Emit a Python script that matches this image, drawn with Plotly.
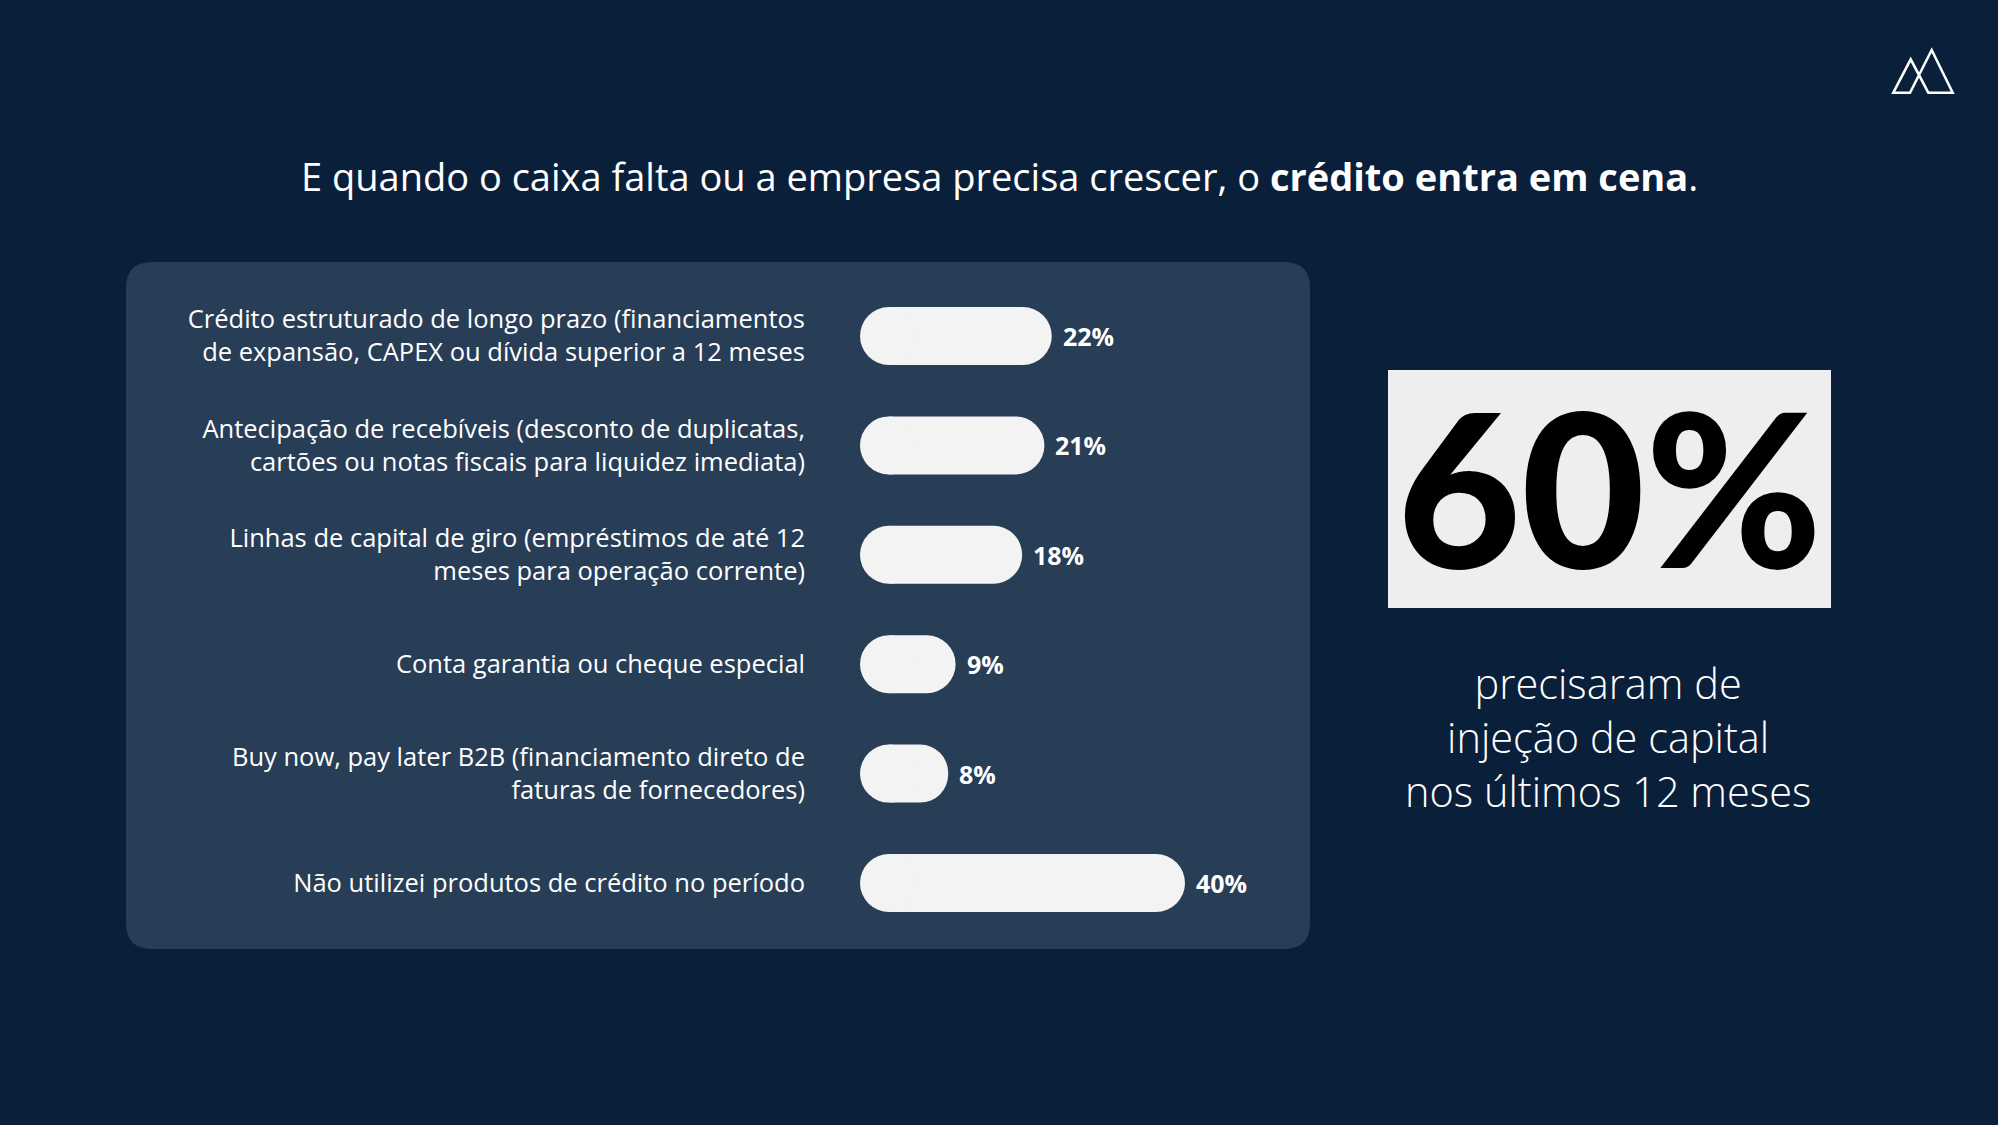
import plotly.graph_objects as go

# ---------------- data ----------------
categories = [
    "Crédito estruturado de longo prazo (financiamentos<br>de expansão, CAPEX ou dívida superior a 12 meses",
    "Antecipação de recebíveis (desconto de duplicatas,<br>cartões ou notas fiscais para liquidez imediata)",
    "Linhas de capital de giro (empréstimos de até 12<br>meses para operação corrente)",
    "Conta garantia ou cheque especial",
    "Buy now, pay later B2B (financiamento direto de<br>faturas de fornecedores)",
    "Não utilizei produtos de crédito no período",
]
values = [22, 21, 18, 9, 8, 40]
value_labels = [f"{v}%" for v in values]

title_plain = "E quando o caixa falta ou a empresa precisa crescer, o "
title_bold = "crédito entra em cena"
headline_value = "60%"
headline_caption = ["precisaram de", "injeção de capital", "nos últimos 12 meses"]

# ---------------- style ----------------
W, H = 1998, 1125
BG = "#0a1f3a"
PANEL = "#283d56"
BAR = "#f3f3f3"
BOX = "#eeeeee"
FONT = "Open Sans"
BIG_FONT = "Lato"


def px(x):
    return x / W


def py(y):
    return 1 - y / H


# plot-area geometry (pixels)
PLOT_L, PLOT_R = 860, 1310
ZERO_PX = 889          # where value 0 sits (pill cap centre)
PX_PER_UNIT = 7.4
BAND_TOP, BAND_BOT = 281.3, 937.7
BAR_H = 58

x_range = [(PLOT_L - ZERO_PX) / PX_PER_UNIT, (PLOT_R - ZERO_PX) / PX_PER_UNIT]
band = (BAND_BOT - BAND_TOP) / len(categories)

fig = go.Figure()

fig.add_trace(go.Bar(
    x=values, y=categories, orientation="h",
    marker=dict(color=BAR, line=dict(width=0), cornerradius="50%"),
    width=BAR_H / band, hoverinfo="skip", showlegend=False,
))
# rounded cap at the base end of every pill
fig.add_trace(go.Scatter(
    x=[0] * len(categories), y=categories, mode="markers",
    marker=dict(size=BAR_H, color=BAR, line=dict(width=0)),
    hoverinfo="skip", showlegend=False,
))

annotations = []
for c, v, t in zip(categories, values, value_labels):
    annotations.append(dict(
        x=v, y=c, xref="x", yref="y", text=f"<b>{t}</b>", showarrow=False,
        xanchor="left", yanchor="middle", xshift=9,
        font=dict(family=FONT, size=25, color="white"),
    ))

annotations.append(dict(
    x=0.5, y=py(176), xref="paper", yref="paper", showarrow=False,
    text=f"{title_plain}<b>{title_bold}</b>.",
    xanchor="center", yanchor="middle",
    font=dict(family=FONT, size=38, color="white"),
))
annotations.append(dict(
    x=px(1609), y=py(486), xref="paper", yref="paper", showarrow=False,
    text=headline_value, xanchor="center", yanchor="middle",
    font=dict(family=BIG_FONT, size=214, color="black", weight=900),
))
annotations.append(dict(
    x=px(1608), y=py(737), xref="paper", yref="paper", showarrow=False,
    text="<br>".join(headline_caption), align="center",
    xanchor="center", yanchor="middle",
    font=dict(family=FONT, size=41.5, color="white", weight=300),
))

# rounded panel
x0, y0, x1, y1, r = 126, 262, 1310, 949, 26
pts = [
    ("M", [(x0 + r, y0)]), ("L", [(x1 - r, y0)]), ("Q", [(x1, y0), (x1, y0 + r)]),
    ("L", [(x1, y1 - r)]), ("Q", [(x1, y1), (x1 - r, y1)]),
    ("L", [(x0 + r, y1)]), ("Q", [(x0, y1), (x0, y1 - r)]),
    ("L", [(x0, y0 + r)]), ("Q", [(x0, y0), (x0 + r, y0)]),
]
panel_path = " ".join(
    cmd + " " + " ".join(f"{px(a):.6f},{py(b):.6f}" for a, b in p) for cmd, p in pts
) + " Z"

logo_pts = [(1893.3, 92.7), (1910.7, 59.3), (1928.3, 92.7), (1952.7, 92.7),
            (1931.7, 50.0), (1910.0, 92.7)]
logo_path = "M " + " L ".join(f"{px(a):.6f},{py(b):.6f}" for a, b in logo_pts) + " Z"

shapes = [
    dict(type="path", path=panel_path, xref="paper", yref="paper",
         fillcolor=PANEL, line=dict(width=0), layer="below"),
    dict(type="rect", x0=px(1388), x1=px(1831), y0=py(608), y1=py(370),
         xref="paper", yref="paper", fillcolor=BOX, line=dict(width=0), layer="below"),
    dict(type="path", path=logo_path, xref="paper", yref="paper",
         line=dict(color="white", width=2.5), fillcolor="rgba(0,0,0,0)"),
]

fig.update_layout(
    width=W, height=H, margin=dict(l=0, r=0, t=0, b=0),
    paper_bgcolor=BG, plot_bgcolor="rgba(0,0,0,0)",
    font=dict(family=FONT, color="white"),
    xaxis=dict(domain=[px(PLOT_L), px(PLOT_R)], range=x_range, visible=False, fixedrange=True),
    yaxis=dict(domain=[py(BAND_BOT), py(BAND_TOP)], type="category",
               categoryorder="array", categoryarray=categories,
               range=[len(categories) - 0.5, -0.5],
               showgrid=False, zeroline=False, showline=False, ticks="",
               ticklabelstandoff=54,
               tickfont=dict(family=FONT, size=25.5, color="white"), fixedrange=True),
    annotations=annotations, shapes=shapes, showlegend=False,
)

fig.write_html("out.html", config={"displayModeBar": False},
               post_script="document.body.style.margin='0';document.body.style.overflow='hidden';")
